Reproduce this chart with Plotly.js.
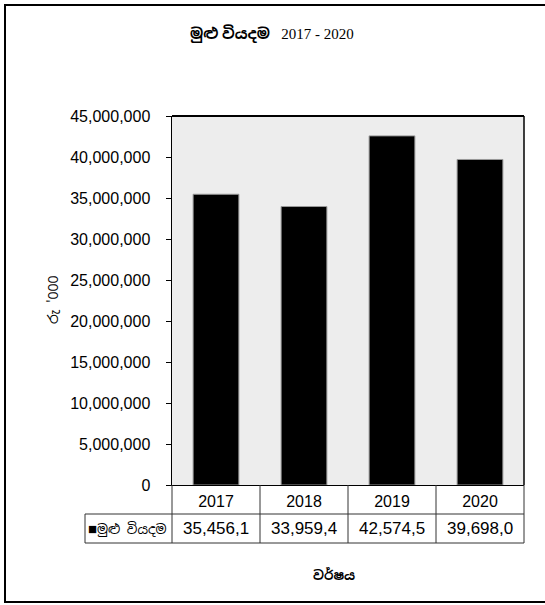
<!DOCTYPE html>
<html>
<head>
<meta charset="utf-8">
<script src="https://cdn.plot.ly/plotly-3.0.1.min.js"></script>
<style>html,body{margin:0;padding:0;background:#fff;}#chart{width:545px;height:605px;}</style>
</head>
<body>
<div id="chart"></div>
<script>
// ---- data ----
const years = ['2017', '2018', '2019', '2020'];
const totalExpenditure = [35456100, 33959400, 42574500, 39698000];
const tableText = ['35,456,1', '33,959,4', '42,574,5', '39,698,0'];
const seriesName = 'මුළු වියදම';
const chartTitle = '<b>මුළු වියදම</b>   2017 - 2020';
const yTitle = "රු '000";
const xTitle = 'වර්ෂය';

// ---- layout helpers (pixel -> paper) ----
const L = 172, R = 524, T = 116, B = 485;
const W = 545, Hh = 605;
const px = x => (x - L) / (R - L);
const py = y => (B - y) / (B - T);
const sinFont = '"Noto Sans Sinhala", "Iskoola Pota", "Noto Sans", sans-serif';
const numFont = 'Arial, "Liberation Sans", sans-serif';

const shapes = [];
const line = (x0, y0, x1, y1, w, c) => shapes.push({
  type: 'line', xref: 'paper', yref: 'paper',
  x0: x0, x1: x1, y0: y0, y1: y1,
  line: {color: c || '#000', width: w || 1}
});
// outer frame
shapes.push({type: 'rect', xref: 'paper', yref: 'paper',
  x0: px(5), x1: px(548), y0: py(602), y1: py(5),
  line: {color: '#000', width: 2}, fillcolor: 'rgba(0,0,0,0)'});
// table lines
line(px(85), py(514), px(R), py(514), 1, '#333');
line(px(85), py(543), px(R), py(543), 1, '#333');
line(px(85), py(514), px(85), py(543), 1, '#333');
for (let i = 0; i <= years.length; i++) {
  const xp = i / years.length;
  line(xp, py(B), xp, py(543), 1, '#333');
}

const annotations = [];
annotations.push({xref: 'paper', yref: 'paper', x: px(272), y: py(33),
  text: chartTitle, showarrow: false, xanchor: 'center', yanchor: 'middle',
  font: {family: '"Times New Roman", "Liberation Serif", ' + sinFont, size: 15, color: '#000'}});
annotations.push({xref: 'paper', yref: 'paper', x: px(334), y: py(575),
  text: '<b>' + xTitle + '</b>', showarrow: false, xanchor: 'center', yanchor: 'middle',
  font: {family: sinFont, size: 13, color: '#000'}});
annotations.push({xref: 'paper', yref: 'paper', x: px(53), y: py(300),
  text: yTitle, showarrow: false, textangle: -90, xanchor: 'center', yanchor: 'middle',
  font: {family: sinFont, size: 14, color: '#000'}});
annotations.push({xref: 'paper', yref: 'paper', x: px(86), y: py(528),
  text: '<span style="font-size:15px">■</span>' + seriesName, showarrow: false, xanchor: 'left', yanchor: 'middle',
  font: {family: sinFont, size: 13, color: '#000'}});
years.forEach((y, i) => {
  annotations.push({xref: 'paper', yref: 'paper', x: (i + 0.5) / years.length, y: py(528),
    text: tableText[i], showarrow: false, xanchor: 'center', yanchor: 'middle',
    font: {family: numFont, size: 17, color: '#000'}});
});

const trace = {
  type: 'bar', x: years, y: totalExpenditure, name: seriesName,
  marker: {color: '#000', line: {color: '#999', width: 1}},
  hoverinfo: 'x+y'
};

const layout = {
  width: W, height: Hh,
  margin: {l: L, r: W - R, t: T, b: Hh - B, pad: 0},
  paper_bgcolor: '#fff', plot_bgcolor: '#ededed',
  showlegend: false, bargap: 0.48,
  xaxis: {type: 'category', range: [-0.5, years.length - 0.5], showgrid: false,
    showline: true, linecolor: '#000', linewidth: 1,
    mirror: false, ticks: '', ticklabelstandoff: 2, zeroline: false,
    tickfont: {family: numFont, size: 16, color: '#000'}},
  yaxis: {range: [0, 45000000], dtick: 5000000, tickformat: ',d', showgrid: false,
    showline: true, linecolor: '#000', linewidth: 1.5, mirror: false, zeroline: false,
    ticks: 'outside', ticklen: 5, tickcolor: '#000', ticklabelstandoff: 12,
    tickfont: {family: numFont, size: 16, color: '#000'}},
  shapes: shapes.concat([
    {type: 'line', xref: 'paper', yref: 'paper', x0: 0, x1: 1, y0: 1, y1: 1, line: {color: '#000', width: 2}},
    {type: 'line', xref: 'paper', yref: 'paper', x0: 1, x1: 1, y0: 0, y1: 1, line: {color: '#000', width: 1.5}}
  ]),
  annotations: annotations
};

Plotly.newPlot('chart', [trace], layout, {staticPlot: true, displayModeBar: false});
</script>
</body>
</html>
